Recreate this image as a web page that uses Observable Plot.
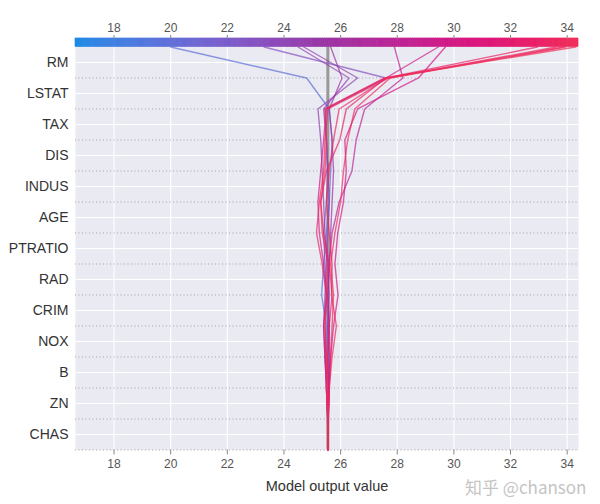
<!DOCTYPE html>
<html>
<head>
<meta charset="utf-8">
<script src="https://cdn.jsdelivr.net/npm/d3@7"></script>
<script src="https://cdn.jsdelivr.net/npm/@observablehq/plot@0.6"></script>
<style>
  html, body { margin: 0; padding: 0; background: #ffffff; }
  #chart { width: 600px; height: 504px; }
</style>
</head>
<body>
<div id="chart"></div>
<script>
// Features, listed from bottom (first added) to top (last added)
const features = ["CHAS", "ZN", "B", "NOX", "CRIM", "RAD", "PTRATIO", "AGE", "INDUS", "DIS", "TAX", "LSTAT", "RM"];
const baseValue = 25.55;
const xTicks = [18, 20, 22, 24, 26, 28, 30, 32, 34];
const xDomain = [16.64, 34.4];

// Cumulative model output at each boundary, from the base value (bottom) to the final output (top)
const outputs = [
  [25.55, 25.55, 25.52, 25.45, 25.50, 25.33, 25.40, 25.50, 25.60, 25.65, 25.70, 25.60, 24.80, 20.00],
  [25.55, 25.56, 25.58, 25.60, 25.55, 25.50, 25.45, 25.40, 25.50, 25.55, 25.50, 25.45, 27.60, 23.30],
  [25.55, 25.54, 25.50, 25.45, 25.40, 25.45, 25.50, 25.55, 25.60, 25.55, 25.50, 25.40, 26.30, 24.50],
  [25.55, 25.55, 25.57, 25.50, 25.55, 25.60, 25.55, 25.45, 25.40, 25.35, 25.30, 25.20, 26.60, 24.70],
  [25.55, 25.56, 25.60, 25.62, 25.60, 25.55, 25.60, 25.65, 25.70, 25.75, 25.70, 25.60, 26.05, 25.65],
  [25.55, 25.57, 25.60, 25.55, 25.60, 25.55, 25.60, 25.70, 25.95, 26.40, 26.55, 26.85, 28.20, 27.90],
  [25.55, 25.55, 25.50, 25.45, 25.40, 25.50, 25.40, 25.25, 25.20, 25.30, 25.40, 25.50, 27.60, 29.45],
  [25.55, 25.56, 25.58, 25.65, 25.75, 25.91, 25.80, 25.90, 26.10, 26.20, 26.15, 26.60, 28.75, 29.70],
  [25.55, 25.55, 25.50, 25.55, 25.60, 25.70, 25.60, 25.40, 25.30, 25.50, 25.97, 26.20, 27.60, 32.95],
  [25.55, 25.54, 25.50, 25.48, 25.45, 25.50, 25.35, 25.15, 25.25, 25.40, 25.45, 25.55, 27.70, 33.60],
  [25.55, 25.56, 25.60, 25.70, 25.85, 25.68, 25.70, 25.60, 25.50, 25.60, 25.75, 25.95, 27.65, 33.85],
  [25.55, 25.55, 25.60, 25.65, 25.70, 25.75, 25.65, 25.80, 26.00, 26.10, 26.25, 26.50, 27.75, 33.95],
  [25.55, 25.55, 25.52, 25.50, 25.45, 25.50, 25.55, 25.35, 25.30, 25.45, 25.50, 25.45, 27.55, 34.30]
];

// shap-like red/blue colormap (LCh interpolation with darker middle)
const interp = t => {
  const h = 266 + (381 - 266) * t;
  const c = 56 + 22 * t;
  const l = t < 0.5 ? 55 - 28 * t : 41 + 26 * (t - 0.5);
  return d3.hcl(h, c, l).toString();
};

const nRows = features.length;
const rows = [];
outputs.forEach((path, i) => {
  const final = path[path.length - 1];
  path.forEach((v, k) => rows.push({line: i, k, v, final}));
});

// colour-bar slices across the x domain
const nSlices = 240;
const slices = d3.range(nSlices).map(i => {
  const a = xDomain[0] + (xDomain[1] - xDomain[0]) * i / nSlices;
  const b = xDomain[0] + (xDomain[1] - xDomain[0]) * (i + 1) / nSlices;
  return {a, b, m: (a + b) / 2};
});

const barTop = nRows + 0.274;
const labelPos = features.map((f, i) => i + 0.5);
const fontFamily = "'Liberation Sans', Arial, Helvetica, sans-serif";

const chart = Plot.plot({
  width: 600,
  height: 504,
  marginLeft: 75,
  marginRight: 22,
  marginTop: 38,
  marginBottom: 54.5,
  style: {fontFamily, background: "white", overflow: "visible"},
  x: {domain: xDomain},
  y: {domain: [0, barTop]},
  color: {type: "linear", domain: xDomain, interpolate: () => interp, range: [0, 1]},
  marks: [
    Plot.frame({fill: "#eaeaf2", stroke: null}),
    Plot.gridX(xTicks, {stroke: "white", strokeOpacity: 1, strokeWidth: 1.1}),
    Plot.gridY(labelPos, {stroke: "white", strokeOpacity: 1, strokeWidth: 1.1}),
    Plot.ruleY(d3.range(0, nRows), {stroke: "#9a9aa6", strokeWidth: 0.9, strokeDasharray: "1,2.5"}),
    Plot.ruleX([baseValue], {y1: 0, y2: nRows, stroke: "#999999", strokeWidth: 3}),
    Plot.line(rows, {x: "v", y: "k", z: "line", stroke: d => d.final, strokeOpacity: 0.7, strokeWidth: 1.4, curve: "linear"}),
    Plot.rect(slices, {x1: "a", x2: "b", y1: nRows, y2: barTop, fill: d => d.m, stroke: d => d.m, strokeWidth: 0.6}),
    Plot.axisX({anchor: "top", ticks: xTicks, tickSize: 4, tickPadding: 3, stroke: "#888", fill: "#555", fontSize: 12, label: null}),
    Plot.axisX({anchor: "bottom", ticks: xTicks, tickSize: 5, tickPadding: 4, stroke: "#888", fill: "#555", fontSize: 12, label: null}),
    Plot.axisY({ticks: labelPos, tickFormat: d => features[Math.round(d - 0.5)], tickSize: 0, tickPadding: 7, fill: "#333", fontSize: 14, label: null}),
    Plot.text(["Model output value"], {frameAnchor: "bottom", dy: 36, fontSize: 14.5, fill: "#333", lineAnchor: "middle"}),
    Plot.text(["知乎 @chanson"], {frameAnchor: "bottom-right", dx: 8, dy: 39, fontSize: 17, fill: "#c4c4c4", textAnchor: "end", lineAnchor: "middle", fontFamily: "'Noto Sans CJK SC', 'Noto Sans', sans-serif"})
  ]
});

document.getElementById("chart").appendChild(chart);
</script>
</body>
</html>
